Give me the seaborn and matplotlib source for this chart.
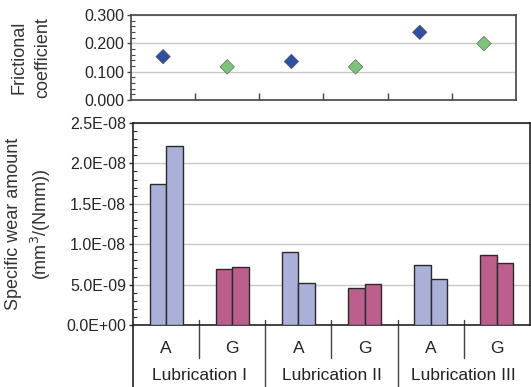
import matplotlib
matplotlib.use("Agg")
import matplotlib.pyplot as plt
import matplotlib.ticker as mticker
import matplotlib.transforms as mtrans
import seaborn as sns
import pandas as pd
import numpy as np

# ---- data ----
conditions = ["I-A", "I-G", "II-A", "II-G", "III-A", "III-G"]
materials = ["A", "G", "A", "G", "A", "G"]
lubrications = ["Lubrication I", "Lubrication II", "Lubrication III"]
friction = [0.153, 0.117, 0.136, 0.117, 0.239, 0.199]
wear_run1 = [1.74e-8, 0.69e-8, 0.905e-8, 0.46e-8, 0.74e-8, 0.865e-8]
wear_run2 = [2.22e-8, 0.72e-8, 0.525e-8, 0.505e-8, 0.575e-8, 0.765e-8]

mat_colors_pts = {"A": "#2F4F9F", "G": "#7CC47C"}
mat_colors_bar = {"A": "#AAB0D8", "G": "#BC5F8C"}

sns.set_theme(style="white")
plt.rcParams["font.family"] = ["Liberation Sans", "DejaVu Sans"]

fig = plt.figure(figsize=(5.31, 3.87), dpi=100)
ax1 = fig.add_axes([131/531, 1-100/387, 385/531, 85/387])
ax2 = fig.add_axes([133/531, 1-325/387, 397/531, 202/387])

# ---- top: friction ----
df_f = pd.DataFrame({"pos": np.arange(len(conditions)), "mu": friction, "mat": materials})
sns.scatterplot(data=df_f, x="pos", y="mu", hue="mat", palette=mat_colors_pts,
                marker="D", s=55, edgecolor="#555555", linewidth=0.4, legend=False, ax=ax1, zorder=3)
ax1.set_xlim(-0.5, len(conditions) - 0.5)
ax1.set_ylim(0, 0.3)
ax1.set_yticks([0, 0.1, 0.2, 0.3])
ax1.yaxis.set_major_formatter(mticker.FormatStrFormatter("%.3f"))
ax1.yaxis.set_minor_locator(mticker.MultipleLocator(0.02))
ax1.set_xticks(np.arange(0.5, len(conditions) - 0.5, 1))
ax1.set_xticklabels([])
ax1.tick_params(axis="x", direction="in", length=5, width=1, color="#444444", bottom=True)
ax1.tick_params(axis="y", which="major", direction="out", length=3, width=1, color="#444444", left=True, labelsize=11.5, pad=2)
ax1.tick_params(axis="y", which="minor", direction="in", length=3, width=0.8, color="#444444", left=True)
ax1.grid(axis="y", color="#C8C8C8", linewidth=1)
ax1.set_xlabel("")
ax1.set_ylabel("Frictional\ncoefficient", fontsize=13, linespacing=1.5, color="#333333")
ax1.yaxis.set_label_coords((51 - 131) / 385, 0.5)
for s in ax1.spines.values():
    s.set_color("#444444")
    s.set_linewidth(1.2)

# ---- bottom: wear ----
df_w = pd.DataFrame({
    "cond": conditions * 2,
    "wear": wear_run1 + wear_run2,
    "run": ["1"] * len(conditions) + ["2"] * len(conditions),
})
sns.barplot(data=df_w, x="cond", y="wear", hue="run", order=conditions, width=0.5,
            edgecolor="#2A2A2A", linewidth=1, legend=False, ax=ax2, zorder=3)
bars = [p for p in ax2.patches]
for i, p in enumerate(bars):
    p.set_facecolor(mat_colors_bar[materials[i % len(conditions)]])
ax2.set_xlim(-0.5, len(conditions) - 0.5)
ax2.set_ylim(0, 2.5e-8)
ax2.set_yticks(np.arange(0, 2.6e-8, 0.5e-8))
ax2.yaxis.set_major_formatter(mticker.FuncFormatter(lambda v, p: "{:.1E}".format(v)))
ax2.yaxis.set_minor_locator(mticker.MultipleLocator(1e-9))
ax2.tick_params(axis="y", which="major", direction="out", length=3, width=1, left=True, labelsize=11.5, pad=2)
ax2.tick_params(axis="y", which="minor", direction="in", length=3, width=0.8, left=True)
ax2.set_xticks([])
ax2.grid(axis="y", color="#C8C8C8", linewidth=1)
ax2.set_axisbelow(True)
ax2.set_xlabel("")
ax2.set_ylabel("Specific wear amount\n(mm$^3$/(Nmm))", fontsize=13, linespacing=1.4, color="#333333")
ax2.yaxis.set_label_coords((53 - 133) / 397, 0.5)
for s in ax2.spines.values():
    s.set_color("#222222")
    s.set_linewidth(1.2)

trans = mtrans.blended_transform_factory(ax2.transData, ax2.transAxes)
for i, m in enumerate(materials):
    ax2.text(i, -0.114, m, transform=trans, ha="center", va="center", fontsize=12.5, color="#222222")
for j, lub in enumerate(lubrications):
    ax2.text(2 * j + 0.5, -0.252, lub, transform=trans, ha="center", va="center", fontsize=12.5, color="#222222")
for xs in [0.5, 2.5, 4.5]:
    ax2.plot([xs, xs], [0.025, -0.163], transform=trans, color="#444444", lw=1, clip_on=False)
for xs in [1.5, 3.5]:
    ax2.plot([xs, xs], [0.025, -0.31], transform=trans, color="#444444", lw=1, clip_on=False)
ax2.plot([-0.5, -0.5], [0, -0.31], transform=trans, color="#222222", lw=1.2, clip_on=False)

fig.savefig("out.png", dpi=100)
